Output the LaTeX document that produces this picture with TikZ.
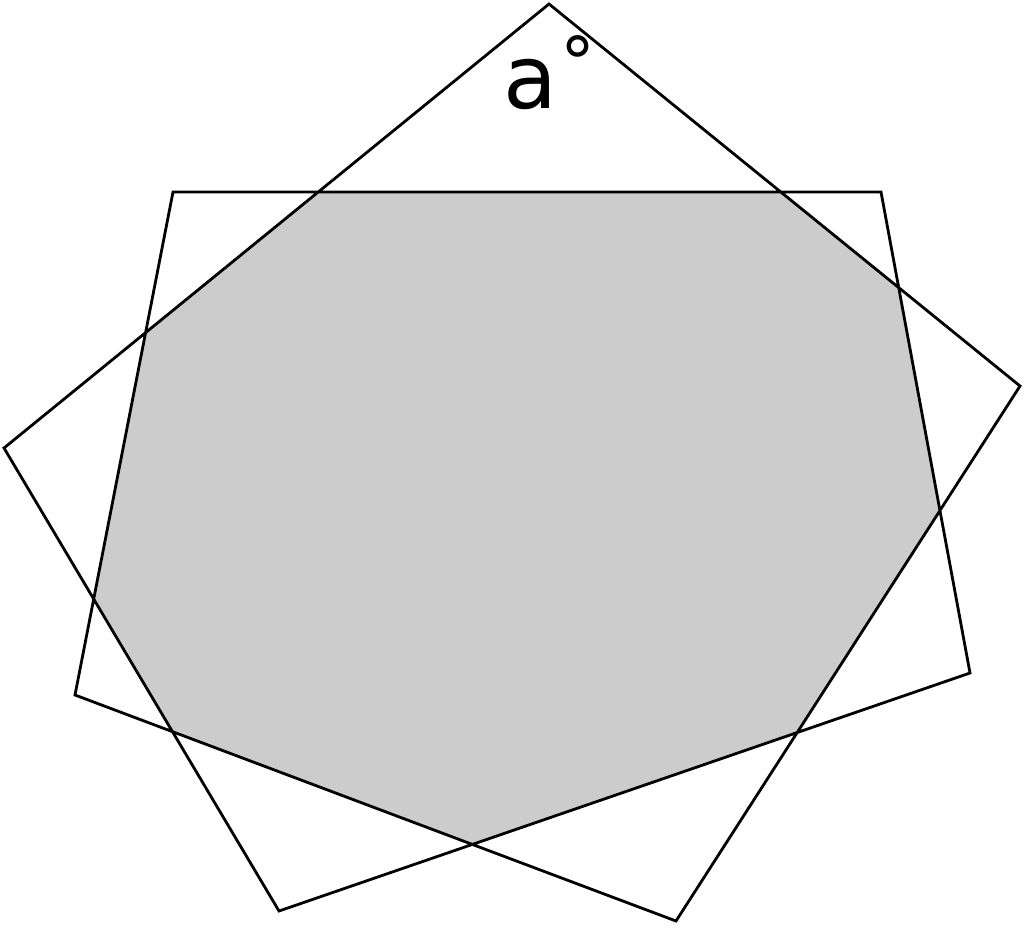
\documentclass[tikz,border=0pt]{standalone}
\usepackage{fontspec}
\setmainfont{DejaVu Sans}
\begin{document}
\begin{tikzpicture}[x=1pt,y=-1pt,
  outline/.style={draw=black,line width=2.8pt,line join=miter},
  shade/.style={fill=black!20,draw=none}]
\useasboundingbox (0,0) rectangle (1024,927);
\coordinate (T) at (549,4);
\coordinate (R) at (1020,386);
\coordinate (BR) at (676,921);
\coordinate (BL) at (75,695);
\coordinate (UL) at (173,192);
\coordinate (UR) at (881,192);
\coordinate (MR) at (970,673);
\coordinate (B) at (279,911);
\coordinate (L) at (4,448);
\fill[shade]
  (intersection of T--L and UL--UR) --
  (intersection of T--R and UL--UR) --
  (intersection of T--R and UR--MR) --
  (intersection of R--BR and UR--MR) --
  (intersection of R--BR and MR--B) --
  (intersection of BR--BL and MR--B) --
  (intersection of BR--BL and B--L) --
  (intersection of BL--UL and B--L) --
  (intersection of BL--UL and L--T) -- cycle;
\draw[outline] (T) -- (R) -- (BR) -- (BL) -- (UL) -- (UR) -- (MR) -- (B) -- (L) -- cycle;
\node[anchor=base west,inner sep=0pt,font=\fontsize{88}{88}\selectfont] (lbl) at (503,108)
  {a\hspace{3pt}\raisebox{21pt}{\fontsize{70}{70}\selectfont °}};
\end{tikzpicture}
\end{document}
